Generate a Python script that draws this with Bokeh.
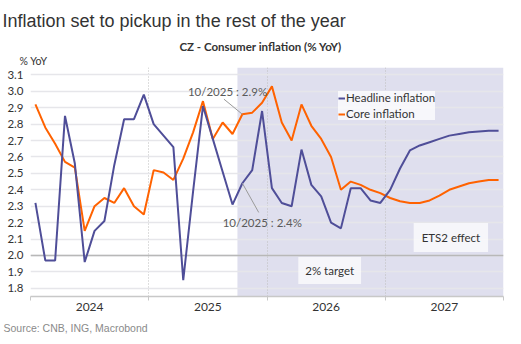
from bokeh.plotting import figure
from bokeh.models import (ColumnDataSource, Range1d, FixedTicker, Label, Legend, LegendItem,
                          BoxAnnotation, Span, PrintfTickFormatter, Title)
from bokeh.embed import file_html
from bokeh.resources import INLINE

# ---------------- data ----------------
months = [f"{y}-{m:02d}" for y in (2024, 2025, 2026, 2027) for m in range(1, 13)]
headline = [2.32, 1.97, 1.97, 2.85, 2.56, 1.96, 2.15, 2.21, 2.55, 2.83, 2.83, 2.98,
            2.80, 2.73, 2.66, 1.85, 2.39, 2.91, 2.71, 2.51, 2.31, 2.44, 2.52, 2.88,
            2.41, 2.32, 2.30, 2.645, 2.43, 2.36, 2.20, 2.165, 2.41, 2.41, 2.335, 2.32,
            2.40, 2.53, 2.64, 2.67, 2.69, 2.71, 2.73, 2.74, 2.75, 2.755, 2.76, 2.76]
core = [2.92, 2.78, 2.68, 2.57, 2.535, 2.15, 2.30, 2.35, 2.32, 2.41, 2.30, 2.25,
        2.52, 2.505, 2.46, 2.59, 2.75, 2.94, 2.71, 2.81, 2.74, 2.86, 2.87, 2.93,
        3.03, 2.81, 2.70, 2.92, 2.79, 2.71, 2.60, 2.40, 2.45, 2.43, 2.40, 2.38,
        2.35, 2.33, 2.32, 2.32, 2.335, 2.365, 2.40, 2.42, 2.44, 2.45, 2.46, 2.46]
years = [2024, 2025, 2026, 2027]
year_labels = ["2024", "2025", "2026", "2027"]
y_ticks = [1.8, 1.9, 2.0, 2.1, 2.2, 2.3, 2.4, 2.5, 2.6, 2.7, 2.8, 2.9, 3.0, 3.1]
forecast_start = "2025-10"
last_actual = "2025-10"
target = 2.0

def to_x(s):
    y, m = s.split("-")
    return int(y) + (int(m) - 0.5) / 12.0

xs = [to_x(s) for s in months]
src = ColumnDataSource(dict(x=xs, headline=headline, core=core))

FONT = "Lato"
HEAD_COL = "#4f4e98"
CORE_COL = "#ff6200"

p = figure(width=521, height=344, x_range=Range1d(2024, 2028), y_range=Range1d(1.75, 3.145),
           output_backend="svg", toolbar_location=None, title_location=None,
           min_border_left=30, min_border_right=18, min_border_top=67, min_border_bottom=48)
p.outline_line_color = None
p.background_fill_color = "white"
p.border_fill_color = "white"

# titles (stacked outward from the frame)
p.add_layout(Title(text="% YoY", text_font=FONT, text_font_size="10.5px",
                   text_font_style="normal", text_color="#333333", align="left",
                   offset=-11, standoff=1), "above")
p.add_layout(Title(text="CZ - Consumer inflation (% YoY)", text_font=FONT, text_font_size="11.5px",
                   text_font_style="bold", text_color="#333333", align="left",
                   offset=149, standoff=0), "above")
p.add_layout(Title(text="Inflation set to pickup in the rest of the year", text_font="Liberation Sans",
                   text_font_size="18px", text_font_style="normal", text_color="#333333",
                   align="left", offset=-28, standoff=13), "above")

# forecast shading
fs = to_x(forecast_start) - 0.5 / 12
p.add_layout(BoxAnnotation(left=fs, right=2028, fill_color="#dfdfee", fill_alpha=1,
                           line_color=None, level="image"))

# grids
p.ygrid.ticker = FixedTicker(ticks=y_ticks)
p.ygrid.grid_line_color = "#e6e6ea"
p.ygrid.grid_line_width = 1.5
p.xgrid.ticker = FixedTicker(ticks=years + [2028])
p.xgrid.grid_line_color = "#bdbdbd"
p.xgrid.grid_line_dash = "1 2"
p.add_layout(Span(location=target, dimension="width", line_color="#b8b8b8",
                  line_width=1.5, level="underlay"))

# axes
p.yaxis.ticker = FixedTicker(ticks=y_ticks)
p.yaxis.formatter = PrintfTickFormatter(format="%.1f")
p.yaxis.axis_line_color = None
p.yaxis.major_tick_line_color = None
p.yaxis.minor_tick_line_color = None
p.yaxis.major_tick_out = 0
p.yaxis.major_label_standoff = 7
p.yaxis.major_label_text_font = FONT
p.yaxis.major_label_text_font_size = "11.5px"
p.yaxis.major_label_text_color = "#333333"

p.xaxis.ticker = FixedTicker(ticks=[y + 0.5 for y in years], minor_ticks=years + [2028])
p.xaxis.major_label_overrides = {y + 0.5: l for y, l in zip(years, year_labels)}
p.xaxis.axis_line_color = "#c8c8c8"
p.xaxis.axis_line_width = 1.5
p.xaxis.major_tick_line_color = None
p.xaxis.major_tick_out = 0
p.xaxis.major_tick_in = 0
p.xaxis.minor_tick_line_color = "#c8c8c8"
p.xaxis.minor_tick_in = 0
p.xaxis.minor_tick_out = 4
p.xaxis.major_label_standoff = 2
p.xaxis.major_label_text_font = FONT
p.xaxis.major_label_text_font_size = "12px"
p.xaxis.major_label_text_color = "#333333"

p.add_layout(Title(text="Source: CNB, ING, Macrobond", text_font="Liberation Sans",
                   text_font_size="10.5px", text_font_style="normal", text_color="#8a8a8a",
                   align="left", offset=-27, standoff=12), "below")

# lines
r_core = p.line("x", "core", source=src, line_color=CORE_COL, line_width=2)
r_head = p.line("x", "headline", source=src, line_color=HEAD_COL, line_width=2)

legend = Legend(items=[LegendItem(label="Headline inflation", renderers=[r_head]),
                       LegendItem(label="Core inflation", renderers=[r_core])],
                location=(308, 176))
legend.label_text_font = FONT
legend.label_text_font_size = "11.5px"
legend.label_text_color = "#333333"
legend.glyph_width = 7
legend.glyph_height = 12
legend.label_height = 12
legend.label_standoff = 1
legend.spacing = 3
legend.padding = 4
legend.margin = 0
legend.background_fill_color = "white"
legend.background_fill_alpha = 0.75
legend.border_line_color = None
p.add_layout(legend)

# annotations: last actual values
ia = months.index(last_actual)
xa = to_x(last_actual)
p.segment(x0=[xa, xa], y0=[core[ia], headline[ia]], x1=[2025.636, 2025.93], y1=[2.952, 2.262],
          line_color="#9a9a9a", line_width=1)
p.add_layout(Label(x=2025.331, y=3.0, text=f"10/2025 : {core[ia]:.1f}%", text_font=FONT,
                   text_font_size="11.5px", text_color="#5a5a5a", text_baseline="middle"))
p.add_layout(Label(x=2025.625, y=2.201, text=f"10/2025 : {headline[ia]:.1f}%", text_font=FONT,
                   text_font_size="11.5px", text_color="#5a5a5a", text_baseline="middle"))

# boxed notes
for tx, ty, t, pad in [(2026.53, 1.908, "2% target", 7), (2027.555, 2.109, "ETS2 effect", 8)]:
    p.add_layout(Label(x=tx, y=ty, text=t, text_font=FONT, text_font_size="11.5px",
                       text_color="#333333", text_align="center", text_baseline="middle",
                       background_fill_color="white", background_fill_alpha=0.7,
                       padding=pad))

open("out.html", "w").write(file_html(p, INLINE))
